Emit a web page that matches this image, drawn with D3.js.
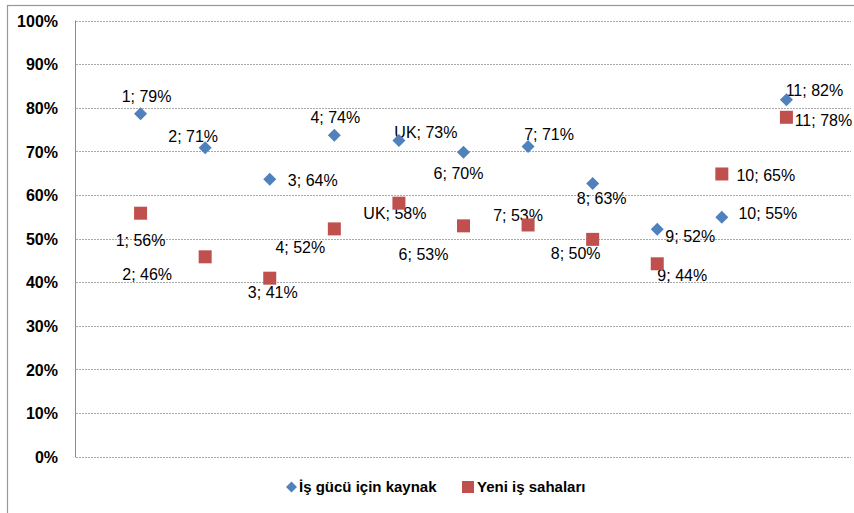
<!DOCTYPE html>
<html>
<head>
<meta charset="utf-8">
<script src="https://cdn.jsdelivr.net/npm/d3@7"></script>
<style>
  html, body { margin: 0; padding: 0; background: #fff; }
  svg { display: block; font-family: "Liberation Sans", Arial, sans-serif; }
</style>
</head>
<body>
<svg id="chart" width="854" height="513"></svg>
<script>
// ---- data ----
const categories = ["1", "2", "3", "4", "UK", "6", "7", "8", "9", "10", "11"];
const seriesNames = ["İş gücü için kaynak", "Yeni iş sahaları"];
const kaynakValues = [0.786, 0.708, 0.636, 0.737, 0.725, 0.698, 0.711, 0.626, 0.521, 0.549, 0.818];
const sahalarValues = [0.558, 0.458, 0.409, 0.522, 0.581, 0.529, 0.531, 0.498, 0.442, 0.648, 0.778];
const yTicks = [0, 0.1, 0.2, 0.3, 0.4, 0.5, 0.6, 0.7, 0.8, 0.9, 1.0];

// ---- layout (label offsets relative to each marker: [dx of text centre, dy of baseline]) ----
const kaynakLabelOffsets = [[6, -12], [-12, -6], [43, 7], [1, -12], [27, -2], [-5, 27], [21, -7], [9, 20], [33, 13], [46, 2], [28, -4]];
const sahalarLabelOffsets = [[0, 33], [-58, 23], [3, 20], [-34, 24], [-4, 16], [-40, 34], [-10, -4], [-17, 20], [25, 17], [44, 7], [37, 9]];

const colors = ["#4F81BD", "#C0504D"];
const svg = d3.select("#chart");

// outer chart border
svg.append("rect")
  .attr("x", 7.5).attr("y", 5.5).attr("width", 900).attr("height", 600)
  .attr("fill", "none").attr("stroke", "#979797").attr("stroke-width", 1.2);

const x = d3.scaleLinear().domain([0, categories.length + 1]).range([76, 851]);
const y = d3.scaleLinear().domain([0, 1]).range([456.5, 20.5]);

// gridlines
const yAxis = d3.axisLeft(y).tickValues(yTicks).tickSize(-(851 - 76)).tickFormat(d3.format(".0%"));
const gAxis = svg.append("g").attr("transform", "translate(76,0)").call(yAxis);
gAxis.select(".domain").remove();
gAxis.selectAll(".tick line")
  .attr("stroke", "#a9a9a9").attr("stroke-dasharray", "2,1").attr("shape-rendering", "crispEdges");
gAxis.selectAll(".tick text")
  .attr("x", -18).attr("dy", "0.36em")
  .attr("font-size", 16).attr("font-weight", "bold").attr("fill", "#000")
  .attr("font-family", "'Liberation Sans', Arial, sans-serif");

// y axis line
svg.append("line")
  .attr("x1", 75.5).attr("x2", 75.5).attr("y1", y(1)).attr("y2", y(0) + 1)
  .attr("stroke", "#8c8c8c").attr("stroke-width", 1);

// data labels (drawn under markers)
function labels(values, offsets) {
  svg.append("g").selectAll("text").data(values).join("text")
    .attr("x", (d, i) => x(i + 1) + offsets[i][0])
    .attr("y", (d, i) => y(d) + offsets[i][1])
    .attr("text-anchor", "middle")
    .attr("font-size", 16).attr("fill", "#000")
    .text((d, i) => categories[i] + "; " + Math.round(d * 100) + "%");
}
labels(kaynakValues, kaynakLabelOffsets);
labels(sahalarValues, sahalarLabelOffsets);

// markers
const diamond = (s) => `M0,${-s}L${s},0L0,${s}L${-s},0Z`;
svg.append("g").selectAll("path").data(kaynakValues).join("path")
  .attr("d", diamond(6.5))
  .attr("transform", (d, i) => `translate(${x(i + 1)},${y(d)})`)
  .attr("fill", colors[0]);

svg.append("g").selectAll("rect").data(sahalarValues).join("rect")
  .attr("x", (d, i) => x(i + 1) - 6.5)
  .attr("y", d => y(d) - 6.5)
  .attr("width", 13).attr("height", 13)
  .attr("fill", colors[1]);

// legend
const lg = svg.append("g").attr("font-size", 15).attr("font-weight", "bold");
lg.append("path").attr("d", diamond(5.5)).attr("transform", "translate(291.5,487)").attr("fill", colors[0]);
lg.append("text").attr("x", 299).attr("y", 492).text(seriesNames[0]);
lg.append("rect").attr("x", 462).attr("y", 481).attr("width", 12).attr("height", 12).attr("fill", colors[1]);
lg.append("text").attr("x", 477).attr("y", 492).text(seriesNames[1]);
</script>
</body>
</html>
